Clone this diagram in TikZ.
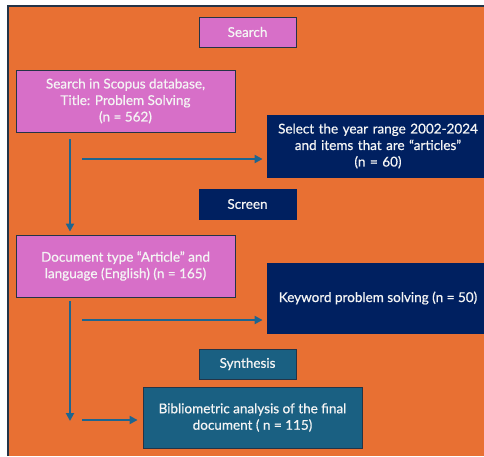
\documentclass[tikz,border=0pt]{standalone}
\usepackage{fontspec}
\setmainfont{Lato}[FakeBold=0.6]
\usetikzlibrary{arrows.meta,calc}
\definecolor{bgorange}{HTML}{E87033}
\definecolor{pinkf}{HTML}{D76FC8}
\definecolor{navyf}{HTML}{002060}
\definecolor{tealf}{HTML}{1A6082}
\definecolor{arrc}{HTML}{1D6590}
\definecolor{edgec}{HTML}{243447}
\definecolor{txt}{HTML}{F4F4F4}
\tikzset{
  box/.style={rectangle, draw=edgec, line width=0.8pt, text=txt, align=center,
    font=\fontsize{13.5}{16.5}\selectfont, inner sep=2pt},
  pinkbox/.style={box, fill=pinkf},
  navybox/.style={box, fill=navyf, draw=navyf},
  tealbox/.style={box, fill=tealf},
  arr/.style={draw=arrc, line width=2.2pt, -{Triangle[length=8pt,width=8pt]}},
}
\begin{document}
\begin{tikzpicture}[x=1pt,y=-1pt]
\useasboundingbox (0,0) rectangle (484,456);
\fill[white] (0,0) rectangle (484,456);
\fill[bgorange] (8,6) rectangle (484,456);
\draw[edgec, line width=1.2pt] (8,456) -- (8,6) -- (484,6);

\node[pinkbox, minimum width=97pt, minimum height=30pt] (search) at (247.5,32) {Search};
\node[pinkbox, minimum width=219pt, minimum height=62pt] (scopus) at (125.5,101)
  {Search in Scopus database,\\Title: Problem Solving\\(n = 562)};
\node[navybox, minimum width=222pt, minimum height=62pt, text width=210pt] (select) at (378,146)
  {Select the year range 2002-2024\\and items that are “articles”\\(n = 60)};
\node[navybox, minimum width=97pt, minimum height=30pt] (screen) at (247.5,204) {Screen};
\node[pinkbox, minimum width=219pt, minimum height=62pt] (doctype) at (125.5,266)
  {Document type “Article” and\\language (English) (n = 165)};
\node[navybox, minimum width=222pt, minimum height=70pt] (keyword) at (378,298)
  {Keyword problem solving (n = 50)};
\node[tealbox, minimum width=97pt, minimum height=30pt] (synth) at (247.5,364) {Synthesis};
\node[tealbox, minimum width=219pt, minimum height=61pt] (biblio) at (252.5,417.5)
  {Bibliometric analysis of the final\\document ( n = 115)};

\coordinate (v1s) at (70,139);
\coordinate (h1s) at (82,159);
\coordinate (v2s) at (70,301);
\coordinate (h2s) at (82,320);
\coordinate (v2e) at (70,421);
\coordinate (h3s) at (82,420);

\draw[arr] (v1s) -- ([yshift=3pt]v1s |- doctype.north);
\draw[arr] (h1s) -- ([xshift=-4pt]h1s -| select.west);
\draw[arr] (v2s) -- (v2e);
\draw[arr] (h2s) -- ([xshift=-4pt]h2s -| keyword.west);
\draw[arr] (h3s) -- ([xshift=-5pt]h3s -| biblio.west);
\end{tikzpicture}
\end{document}
